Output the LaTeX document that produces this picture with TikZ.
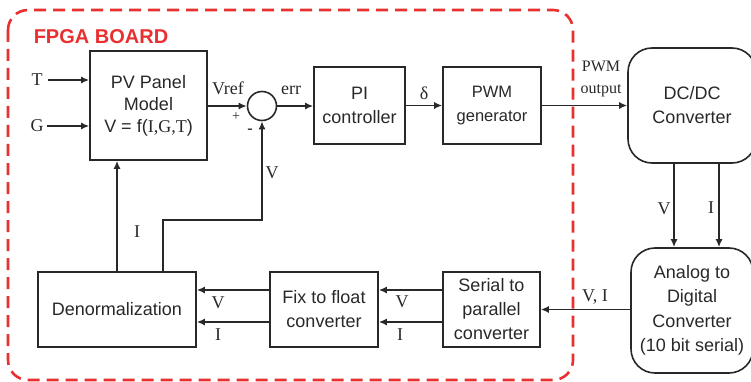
\documentclass[tikz,border=0pt]{standalone}
\usepackage{fontspec}
\setmainfont{Liberation Serif}
\setsansfont{Liberation Sans}
\usepackage{xcolor}
\usetikzlibrary{arrows.meta}

\definecolor{boardred}{RGB}{232,48,48}
\definecolor{ink}{RGB}{40,40,40}

\begin{document}
\begin{tikzpicture}[x=1pt,y=-1pt,
  line width=1.6pt, draw=ink, text=ink,
  blk/.style={draw, align=center, inner sep=2pt, font=\sffamily\fontsize{18}{24}\selectfont},
  rblk/.style={blk, rounded corners=24pt},
  lbl/.style={inner sep=0pt, font=\fontsize{18}{20}\selectfont},
  arr/.style={-{Latex[length=8pt,width=7pt]}}]
  \useasboundingbox (0,0) rectangle (751,382);
  \draw[boardred, line width=2.6pt, dash pattern=on 12pt off 7pt, rounded corners=20pt]
    (8,10) rectangle (573,380);
  \node[inner sep=0pt, text=boardred, font=\sffamily\bfseries\fontsize{20}{24}\selectfont] (board) at (101,37) {FPGA BOARD};

  \node[blk, minimum width=117pt, minimum height=109pt, font=\sffamily\fontsize{18}{22}\selectfont] (pv) at (148.5,105.5)
    {PV Panel\\Model\\V = f(\textrm{I,G,T})};
  \node[circle, draw, minimum size=29pt, inner sep=0pt] (sum) at (262,106) {};
  \node[blk, minimum width=91pt, minimum height=77pt] (pi) at (359.5,105.5) {PI\\controller};
  \node[blk, minimum width=98pt, minimum height=77pt, font=\sffamily\fontsize{16.5}{24}\selectfont] (pwm) at (492,105.5) {PWM\\generator};
  \node[rblk, minimum width=128pt, minimum height=115pt] (dcdc) at (692,105.5) {DC/DC\\Converter};
  \node[rblk, minimum width=122pt, minimum height=125pt, font=\sffamily\fontsize{18}{24.5}\selectfont] (adc) at (692,310.5)
    {Analog to\\Digital\\Converter\\(10 bit serial)};
  \node[blk, minimum width=97pt, minimum height=75pt] (serial) at (491.5,309.5) {Serial to\\parallel\\converter};
  \node[blk, minimum width=108pt, minimum height=75pt] (fix) at (324,309.5) {Fix to float\\converter};
  \node[blk, minimum width=158pt, minimum height=75pt] (denorm) at (117,309.5) {Denormalization};

  \node[lbl] (tin) at (37,80) {T};
  \node[lbl] (gin) at (37,126) {G};
  \draw[arr] ([xshift=5pt]tin.east) -- (tin -| pv.west);
  \draw[arr] ([xshift=3pt]gin.east) -- (gin -| pv.west);

  \draw[arr] (pv.east |- sum) -- (sum.west);
  \draw[arr] (sum.east) -- (sum -| pi.west);
  \draw[arr] (pi.east) -- (pwm.west);
  \draw[arr] (pwm.east) -- (pwm -| dcdc.west);
  \draw[arr] ([xshift=-18pt]dcdc.south) -- ([xshift=-18pt]dcdc.south |- adc.north);
  \draw[arr] ([xshift=27pt]dcdc.south) -- ([xshift=27pt]dcdc.south |- adc.north);
  \draw[arr] (adc.west |- serial) -- (serial.east);
  \draw[arr] ([yshift=19.5pt]serial.west) -- ([yshift=19.5pt]serial.west -| fix.east);
  \draw[arr] ([yshift=-12.5pt]serial.west) -- ([yshift=-12.5pt]serial.west -| fix.east);
  \draw[arr] ([yshift=19.5pt]fix.west) -- ([yshift=19.5pt]fix.west -| denorm.east);
  \draw[arr] ([yshift=-12.5pt]fix.west) -- ([yshift=-12.5pt]fix.west -| denorm.east);
  \draw[arr] (denorm.north) -- (denorm.north |- pv.south);
  \draw[arr] ([xshift=46pt]denorm.north) -- ++(0,-51) -| (sum.south);

  \node[lbl] (vref) at (228,88) {Vref};
  \node[lbl, font=\fontsize{14}{16}\selectfont] (plus) at (236,117) {+};
  \node[lbl, font=\bfseries\fontsize{16}{18}\selectfont] (minus) at (250,131) {-};
  \node[lbl] (err) at (291,90) {err};
  \node[lbl] (delta) at (424,93) {δ};
  \node[lbl, align=center, font=\fontsize{16}{22}\selectfont] (pwmout) at (601,79) {PWM\\output};
  \node[lbl] (vfb) at (272,173) {V};
  \node[lbl] (ifb) at (137,232) {I};
  \node[lbl] (vdc) at (664,209) {V};
  \node[lbl] (idc) at (711,208) {I};
  \node[lbl] (vi) at (595,297) {V, I};
  \node[lbl] (vsp) at (402,302) {V};
  \node[lbl] (isp) at (400,335) {I};
  \node[lbl] (vfx) at (218,303) {V};
  \node[lbl] (ifx) at (218,335) {I};
\end{tikzpicture}
\end{document}
